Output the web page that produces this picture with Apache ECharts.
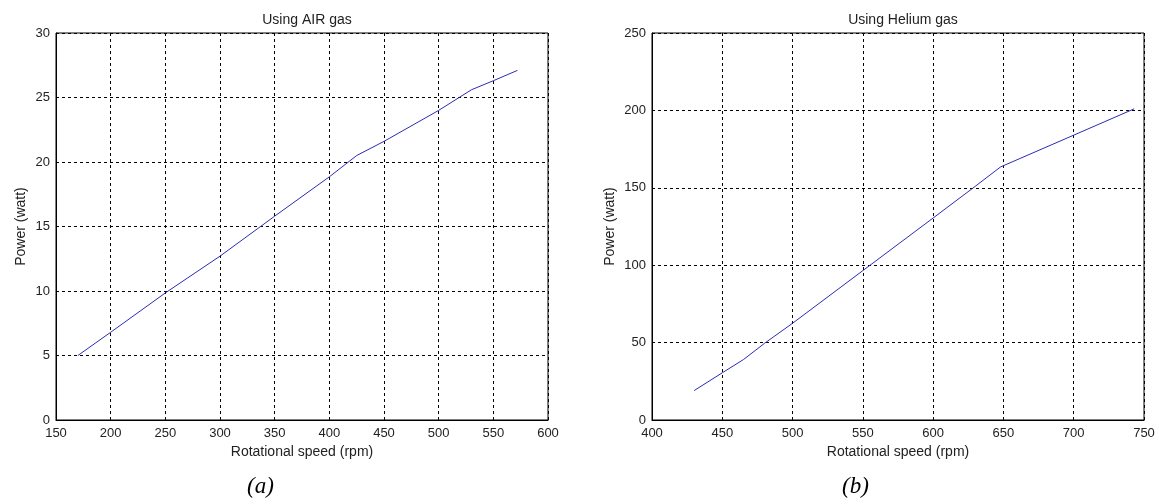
<!DOCTYPE html>
<html>
<head>
<meta charset="UTF-8">
<script src="https://cdn.jsdelivr.net/npm/echarts@6/dist/echarts.min.js"></script>
<style>
  * { margin: 0; padding: 0; }
  body { background: #fff; }
  #main { width: 1159px; height: 504px; }
</style>
</head>
<body>
<div id="main"></div>
<script>
    // (a) air: rotational speed (rpm) vs power (watt)
    var airRpm = [170, 200, 250, 300, 350, 400, 425, 450, 500, 530, 550, 572];
    var airPower = [5.0, 6.8, 9.85, 12.7, 15.8, 18.85, 20.5, 21.6, 24.0, 25.6, 26.3, 27.1];

    // (b) helium
    var heRpm = [430, 450, 465, 480, 500, 550, 600, 630, 648, 700, 743];
    var hePower = [19, 30.5, 39, 49.5, 62.5, 96.5, 130.5, 151, 163.5, 184, 201];

    var titles = ['Using AIR gas', 'Using Helium gas'];
    var captions = ['(a)', '(b)'];

    function pairs(xs, ys) {
        return xs.map(function (x, i) { return [x, ys[i]]; });
    }

    var chart = echarts.init(document.getElementById('main'));

    var font = 'Liberation Sans, Arial, sans-serif';
    var grid = { color: '#000', type: [3, 3], width: 1 };
    var nameStyle = { fontFamily: font, fontSize: 14, color: '#222' };
    var labelStyle = { fontFamily: font, fontSize: 13, color: '#222' };

    function xAxis(idx, min, max) {
        return {
            type: 'value', gridIndex: idx, min: min, max: max, interval: 50,
            name: 'Rotational speed (rpm)', nameLocation: 'middle', nameGap: 25,
            nameTextStyle: nameStyle,
            axisLine: { show: true, lineStyle: { color: '#000', width: 1 } },
            axisTick: { show: false },
            axisLabel: Object.assign({ margin: 7 }, labelStyle),
            splitLine: { show: true, lineStyle: grid }
        };
    }

    function yAxis(idx, max, step, gap) {
        return {
            type: 'value', gridIndex: idx, min: 0, max: max, interval: step,
            name: 'Power (watt)', nameLocation: 'middle', nameGap: gap,
            nameTextStyle: nameStyle,
            axisLine: { show: true, lineStyle: { color: '#000', width: 1 } },
            axisTick: { show: false },
            axisLabel: Object.assign({ margin: 6 }, labelStyle),
            splitLine: { show: true, lineStyle: grid }
        };
    }

    var option = {
        animation: false,
        title: [
            { text: titles[0], left: 302, top: 8, textAlign: 'center',
              textStyle: { fontFamily: font, fontSize: 14, fontWeight: 'normal', color: '#222' } },
            { text: titles[1], left: 898, top: 8, textAlign: 'center',
              textStyle: { fontFamily: font, fontSize: 14, fontWeight: 'normal', color: '#222' } }
        ],
        grid: [
            { left: 56, top: 33, width: 492, height: 387, show: true, borderColor: '#000', borderWidth: 1 },
            { left: 652, top: 33, width: 492, height: 387, show: true, borderColor: '#000', borderWidth: 1 }
        ],
        xAxis: [xAxis(0, 150, 600), xAxis(1, 400, 750)],
        yAxis: [yAxis(0, 30, 5, 28), yAxis(1, 250, 50, 35)],
        series: [
            {
                type: 'line', xAxisIndex: 0, yAxisIndex: 0,
                data: pairs(airRpm, airPower),
                showSymbol: false,
                lineStyle: { color: '#2b2bb5', width: 1 }
            },
            {
                type: 'line', xAxisIndex: 1, yAxisIndex: 1,
                data: pairs(heRpm, hePower),
                showSymbol: false,
                lineStyle: { color: '#2b2bb5', width: 1 }
            }
        ],
        graphic: [
            { type: 'text', left: 247, top: 475,
              style: { text: captions[0], font: 'italic 23px "Liberation Serif", serif', fill: '#000' } },
            { type: 'text', left: 842, top: 475,
              style: { text: captions[1], font: 'italic 23px "Liberation Serif", serif', fill: '#000' } }
        ]
    };

    chart.setOption(option);
</script>
</body>
</html>
